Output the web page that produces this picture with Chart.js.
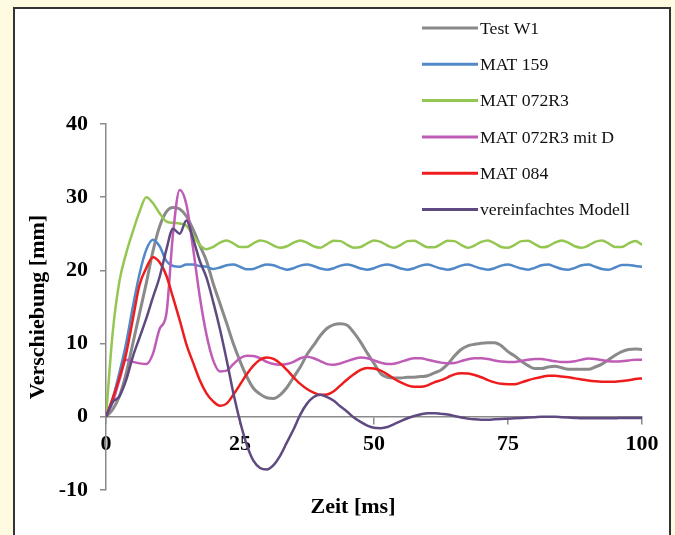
<!doctype html>
<html lang="de">
<head>
    <meta charset="UTF-8" />
    <title>Verschiebung über Zeit</title>
    <style>
        html, body {
            margin: 0;
            width: 675px;
            height: 535px;
            overflow: hidden;
            background: #fffbe0;
        }
        .panel {
            position: absolute;
            left: 13px;
            top: 7px;
            width: 658px;
            height: 600px;
            box-sizing: border-box;
            border: 2px solid #333;
            background: #fff;
        }
        #chart {
            position: absolute;
            left: 0;
            top: 0;
        }
    </style>
</head>
<body>
    <div class="panel"></div>
    <canvas id="chart" width="675" height="535"></canvas>

    <script src="https://cdn.jsdelivr.net/npm/chart.js"></script>
    <script>
        // Zeit [ms]
        const zeit = [
            0, 1.25, 2.5, 3.75, 5, 6.25, 7.5, 8.75,
            10, 11.25, 12.5, 13.75, 15, 16.25, 17.5, 18.75,
            20, 21.25, 22.5, 23.75, 25, 26.25, 27.5, 28.75,
            30, 31.25, 32.5, 33.75, 35, 36.25, 37.5, 38.75,
            40, 41.25, 42.5, 43.75, 45, 46.25, 47.5, 48.75,
            50, 51.25, 52.5, 53.75, 55, 56.25, 57.5, 58.75,
            60, 61.25, 62.5, 63.75, 65, 66.25, 67.5, 68.75,
            70, 71.25, 72.5, 73.75, 75, 76.25, 77.5, 78.75,
            80, 81.25, 82.5, 83.75, 85, 86.25, 87.5, 88.75,
            90, 91.25, 92.5, 93.75, 95, 96.25, 97.5, 98.75,
            100
        ];

        // Verschiebung [mm]
        const testW1 = [
            0, 1.0, 2.8, 5.9, 10, 14.1, 18.2, 22.6,
            26, 28, 28.6, 28.4, 27.4, 25.6, 23.4, 21.3,
            18.2, 15.5, 12.8, 10, 7.6, 5.5, 3.9, 3.1,
            2.6, 2.5, 3.0, 4.0, 5.4, 6.8, 8.5, 9.8,
            11.1, 12.1, 12.6, 12.7, 12.5, 11.5, 10.2, 8.7,
            7.3, 5.9, 5.4, 5.3, 5.3, 5.4, 5.4, 5.5,
            5.6, 6.0, 6.4, 7.2, 8.3, 9.2, 9.7, 9.9,
            10.05, 10.1, 10.1, 9.7, 8.9, 8.3, 7.6, 7.0,
            6.6, 6.6, 6.8, 6.9, 6.7, 6.5, 6.5, 6.5,
            6.5, 6.8, 7.2, 7.8, 8.4, 8.9, 9.2, 9.25,
            9.2
        ];
        const mat159 = [
            0, 2.5, 6, 10, 15, 19.5, 22.8, 24.2,
            23.3, 21.3, 20.6, 20.5, 20.8, 20.8, 20.6, 20.5,
            20.2, 20.4, 20.7, 20.8, 20.5, 20.15, 20.2, 20.55,
            20.8, 20.7, 20.35, 20.1, 20.3, 20.65, 20.8, 20.6,
            20.25, 20.1, 20.3, 20.65, 20.8, 20.6, 20.25, 20.1,
            20.3, 20.65, 20.8, 20.6, 20.25, 20.1, 20.3, 20.65,
            20.8, 20.55, 20.25, 20.1, 20.3, 20.65, 20.8, 20.55,
            20.25, 20.1, 20.3, 20.65, 20.8, 20.55, 20.25, 20.1,
            20.35, 20.7, 20.8, 20.5, 20.2, 20.1, 20.35, 20.7,
            20.8, 20.5, 20.2, 20.1, 20.4, 20.75, 20.75, 20.6,
            20.5
        ];
        const mat072R3 = [
            0, 11.5, 18.5, 22.3, 25.3, 28, 30, 29.2,
            27.8, 26.7, 26.5, 26.4, 26.1, 24.8, 23.5, 22.9,
            23.2, 23.8, 24.1, 23.7, 23.2, 23.2, 23.7, 24.1,
            23.9, 23.4, 23.1, 23.3, 23.8, 24.1, 23.8, 23.3,
            23.1, 23.6, 24.05, 24.0, 23.5, 23.1, 23.2, 23.7,
            24.1, 23.9, 23.4, 23.1, 23.5, 24.0, 24.05, 23.6,
            23.15, 23.15, 23.6, 24.05, 24.0, 23.5, 23.1, 23.4,
            23.9, 24.1, 23.7, 23.2, 23.1, 23.5, 24.0, 24.05,
            23.6, 23.15, 23.3, 23.8, 24.1, 23.8, 23.3, 23.1,
            23.4, 23.9, 24.1, 23.7, 23.2, 23.2, 23.7, 24.0,
            23.5
        ];
        const mat072R3D = [
            0, 2.0, 5.0, 7.8, 7.5, 7.3, 7.2, 8.6,
            12, 14, 25, 31, 29, 23, 16.4, 11.2,
            7.7, 6.2, 6.3, 7.2, 8.0, 8.35, 8.3, 8.0,
            7.5, 7.2, 7.1, 7.2, 7.5, 8.0, 8.2, 8.0,
            7.6, 7.2, 7.1, 7.3, 7.6, 7.9, 8.1, 8.0,
            7.7, 7.4, 7.2, 7.25, 7.5, 7.8, 8.0, 8.0,
            7.8, 7.6, 7.4, 7.3, 7.35, 7.6, 7.85, 8.0,
            8.0, 7.9, 7.7, 7.55, 7.5, 7.5, 7.65, 7.8,
            7.9, 7.9, 7.75, 7.6, 7.5, 7.5, 7.6, 7.8,
            7.95, 7.9, 7.75, 7.6, 7.55, 7.6, 7.7, 7.8,
            7.8
        ];
        const mat084 = [
            0, 2.5, 5.3, 8.6, 13.3, 18, 20.3, 21.8,
            21.1, 19.3, 16.3, 13.2, 9.9, 7.4, 5.0, 3.2,
            2.1, 1.5, 1.8, 3.0, 4.4, 5.8, 7.0, 7.8,
            8.1, 7.9, 7.3, 6.4, 5.4, 4.5, 3.8, 3.3,
            3.0, 3.05, 3.5, 4.3, 5.1, 5.8, 6.4, 6.65,
            6.6, 6.3, 5.8, 5.2, 4.7, 4.3, 4.1, 4.1,
            4.3, 4.7, 5.0, 5.4, 5.8, 5.95, 5.9, 5.7,
            5.4, 5.0, 4.7, 4.5, 4.45, 4.45, 4.7, 5.0,
            5.25, 5.45, 5.6, 5.6, 5.5, 5.4, 5.25, 5.1,
            4.95, 4.85, 4.8, 4.8, 4.8, 4.9, 5.0, 5.15,
            5.25
        ];
        const modell = [
            0, 2.0, 2.8, 5.0, 8.2, 10.8, 13.4, 16.3,
            19.1, 22.8, 25.7, 25.0, 26.8, 24.3, 21.3, 19.0,
            15.7, 12.0, 7.8, 3.3, -0.6, -3.8, -6.0, -7.0,
            -7.2, -6.6, -5.3, -3.5, -1.7, 0.3, 1.8, 2.7,
            3.0, 2.7, 2.2, 1.4, 0.7, -0.1, -0.7, -1.2,
            -1.5, -1.55, -1.4, -1.0, -0.6, -0.2, 0.1, 0.35,
            0.5, 0.5, 0.4, 0.3, 0.1, -0.1, -0.25, -0.35,
            -0.4, -0.4, -0.35, -0.3, -0.25, -0.2, -0.15, -0.1,
            -0.05, 0, 0, 0, -0.05, -0.1, -0.15, -0.2,
            -0.2, -0.2, -0.2, -0.2, -0.2, -0.15, -0.15, -0.15,
            -0.15
        ];

        const xTicks = [0, 25, 50, 75, 100];
        const yTicks = [-10, 0, 10, 20, 30, 40];

        const serien = [
            { label: 'Test W1', werte: testW1, farbe: '#8a8a8a', breite: 3 },
            { label: 'MAT 159', werte: mat159, farbe: '#5088c8', breite: 2.5 },
            { label: 'MAT 072R3', werte: mat072R3, farbe: '#94c751', breite: 2.5 },
            { label: 'MAT 072R3 mit D', werte: mat072R3D, farbe: '#bf5cb6', breite: 2.5 },
            { label: 'MAT 084', werte: mat084, farbe: '#ee1c1c', breite: 2.5 },
            { label: 'vereinfachtes Modell', werte: modell, farbe: '#5e4a80', breite: 2.5 }
        ];

        const schrift = '"Liberation Serif", "Times New Roman", serif';

        // legend on the right, outside the plot like in Excel
        const seitenLegende = {
            id: 'seitenLegende',
            afterDraw(chart) {
                const ctx = chart.ctx;
                ctx.save();
                ctx.font = '17.7px ' + schrift;
                ctx.textBaseline = 'middle';
                ctx.textAlign = 'left';
                chart.data.datasets.forEach((ds, i) => {
                    const y = 28 + i * 36.3;
                    ctx.strokeStyle = ds.borderColor;
                    ctx.lineWidth = 3;
                    ctx.beginPath();
                    ctx.moveTo(422, y);
                    ctx.lineTo(478, y);
                    ctx.stroke();
                    ctx.fillStyle = '#111';
                    ctx.fillText(ds.label, 480, y + 1);
                });
                // x axis title
                ctx.font = 'bold 22px ' + schrift;
                ctx.textAlign = 'center';
                ctx.fillStyle = '#000';
                ctx.fillText('Zeit [ms]', 353, 507);
                ctx.restore();
            }
        };

        const datasets = serien.map((s, i) => ({
            label: s.label,
            data: zeit.map((t, j) => ({ x: t, y: s.werte[j] })),
            borderColor: s.farbe,
            borderWidth: s.breite,
            pointRadius: 0,
            fill: false,
            cubicInterpolationMode: 'monotone',
            order: serien.length - i
        }));

        new Chart(document.getElementById('chart'), {
            type: 'line',
            data: { datasets },
            plugins: [seitenLegende],
            options: {
                responsive: false,
                animation: false,
                devicePixelRatio: 1,
                layout: { padding: { left: 0, right: 33, top: 124, bottom: 45 } },
                plugins: {
                    legend: { display: false },
                    tooltip: { enabled: false }
                },
                scales: {
                    x: {
                        type: 'linear',
                        position: { y: 0 },
                        min: 0,
                        max: 100,
                        afterBuildTicks: axis => { axis.ticks = xTicks.map(v => ({ value: v })); },
                        afterFit: axis => { axis.height = 0; },
                        grid: { drawOnChartArea: false, color: '#8a8a8a', tickLength: 7, lineWidth: 1.5 },
                        border: { color: '#8a8a8a', width: 1.5 },
                        ticks: {
                            padding: 7,
                            color: '#000',
                            maxRotation: 0,
                            font: { family: schrift, size: 22, weight: 'bold' }
                        }
                    },
                    y: {
                        type: 'linear',
                        position: 'left',
                        min: -10,
                        max: 40,
                        afterBuildTicks: axis => { axis.ticks = yTicks.map(v => ({ value: v })); },
                        afterFit: axis => { axis.width = 106; },
                        grid: { drawOnChartArea: false, color: '#8a8a8a', tickLength: 6, lineWidth: 1.5 },
                        border: { color: '#8a8a8a', width: 1.5 },
                        ticks: {
                            padding: 12,
                            color: '#000',
                            font: { family: schrift, size: 22, weight: 'bold' }
                        },
                        title: {
                            display: true,
                            text: 'Verschiebung [mm]',
                            color: '#000',
                            padding: { top: 25, bottom: 0 },
                            font: { family: schrift, size: 22, weight: 'bold' }
                        }
                    }
                }
            }
        });
    </script>
</body>
</html>
